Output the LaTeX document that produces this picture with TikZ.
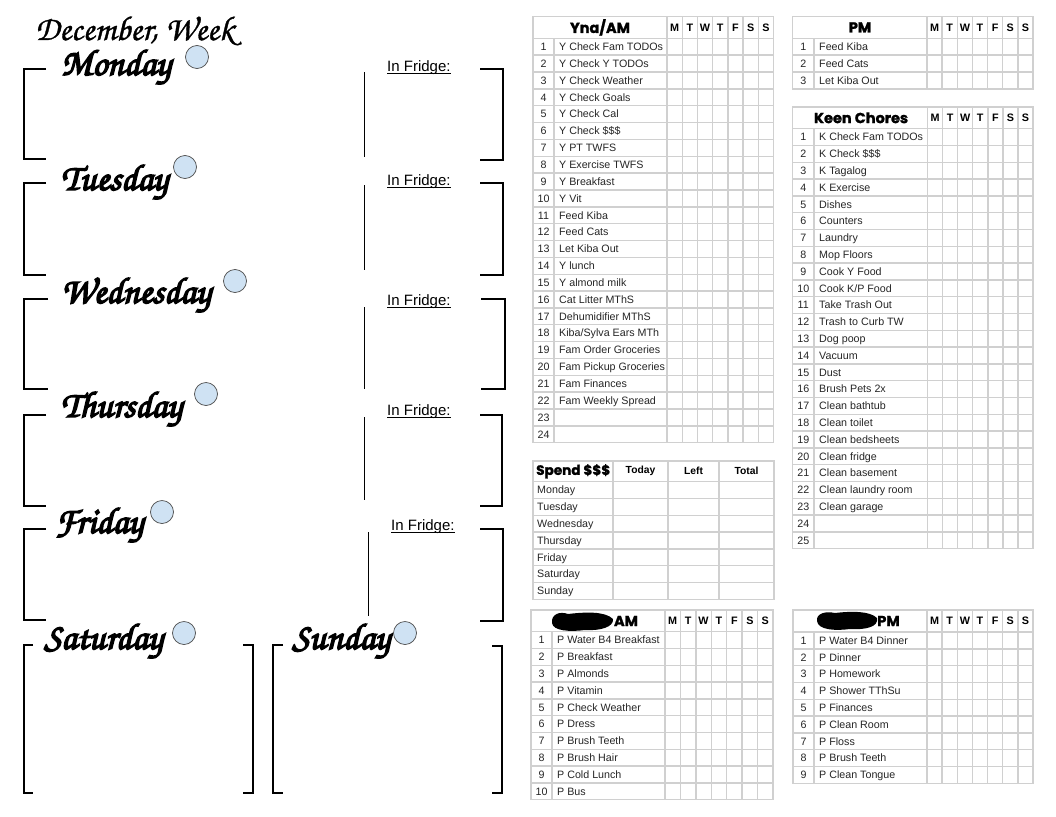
\documentclass[tikz,border=0pt]{standalone}
\usepackage{fontspec}
\setmainfont{Liberation Sans}
\newfontfamily\headfont{Poppins}[BoldFeatures={FakeBold=1.5}]
\newfontfamily\scr{texgyrechorus-mediumitalic.otf}[FakeBold=1]
\newfontfamily\scrb{texgyrechorus-mediumitalic.otf}[FakeBold=4]
\definecolor{gridc}{HTML}{D0D0D0}
\definecolor{dotc}{HTML}{CFE2F3}
\tikzset{
  tgrid/.style={draw=gridc, line width=1.4pt},
  brk/.style={line width=2.8pt, line join=miter},
  fline/.style={line width=0.9pt},
  dot/.style={circle, fill=dotc, draw=black!70, line width=0.7pt, minimum size=23pt, inner sep=0},
  item/.style={anchor=base west, inner sep=0, text=black!85, font=\fontsize{10.7}{12}\selectfont},
  num/.style={anchor=base, inner sep=0, text=black!85, font=\fontsize{10.7}{12}\selectfont},
  dayhd/.style={inner sep=0, font=\bfseries\fontsize{10.8}{11}\selectfont},
  colhd/.style={inner sep=0, font=\bfseries\fontsize{10.3}{11}\selectfont},
  ttl/.style={inner sep=0, font=\headfont\bfseries\fontsize{14.5}{16}\selectfont},
  dayname/.style={anchor=base west, inner sep=0, font=\scrb\fontsize{37}{40}\selectfont},
  fridge/.style={anchor=base west, inner sep=0, font=\fontsize{15}{17}\selectfont},
}
\newcommand\chkgrid[8]{%
  \pgfmathsetmacro\yb{#6+#8*#7}%
  \pgfmathsetmacro\dw{(#4-#3)/7}%
  \draw[tgrid] (#1,#5) rectangle (#4,\yb);
  \draw[tgrid] (#1,#6) -- (#4,#6);
  \foreach \r in {1,...,#8} {\draw[tgrid] (#1,{#6+\r*#7}) -- (#4,{#6+\r*#7});}
  \draw[tgrid] (#2,#6) -- (#2,\yb);
  \foreach \k in {0,...,6} {\draw[tgrid] ({#3+\k*\dw},#5) -- ({#3+\k*\dw},\yb);}
  \foreach \d [count=\k] in {M,T,W,T,F,S,S} {\node[dayhd] at ({#3+(\k-0.5)*\dw},{(#5+#6)/2}) {\d};}
  \foreach \r in {1,...,#8} {\node[num] at ({(#1+#2)/2},{#6+(\r-0.5)*#7+3.8}) {\r};}
}
\newcommand\chkitems[4]{%
  \foreach \t [count=\i] in {#4} {\node[item] at ({#1+5},{#2+(\i-0.5)*#3+3.8}) {\t};}
}
\begin{document}
\begin{tikzpicture}[x=1pt,y=-1pt]
\fill[white] (0,0) rectangle (1056,816);
\useasboundingbox (0,0) rectangle (1056,816);

% ---------- left planner ----------
\node[anchor=base west, inner sep=0, font=\scr\fontsize{34.5}{36}\selectfont] (title) at (35,40) {December, Week};

\node[dayname] (mon) at (61,75) {Monday};
\node[dayname] (tue) at (61,190) {Tuesday};
\node[dayname] (wed) at (61,303) {Wednesday};
\node[dayname] (thu) at (61,417) {Thursday};
\node[dayname] (fri) at (55,533) {Friday};
\node[dayname] (sat) at (44,649) {Saturday};
\node[dayname] (sun) at (292,649) {Sunday};

\node[dot] (dmon) at (197,57) {};
\node[dot] (dtue) at (185,167) {};
\node[dot] (dwed) at (235,281) {};
\node[dot] (dthu) at (206,394) {};
\node[dot] (dfri) at (162,512) {};
\node[dot] (dsat) at (184,633) {};
\node[dot] (dsun) at (405,633) {};

% left brackets
\draw[brk] (46,69) -- (24,69) -- (24,159) -- (46,159);
\draw[brk] (46,183) -- (24,183) -- (24,275) -- (46,275);
\draw[brk] (48,299) -- (24,299) -- (24,389) -- (48,389);
\draw[brk] (46,415) -- (24,415) -- (24,506) -- (46,506);
\draw[brk] (46,529) -- (24,529) -- (24,620) -- (46,620);
\draw[brk] (33,645) -- (24,645) -- (24,793) -- (33,793);
% right brackets
\draw[brk] (480,69) -- (503,69) -- (503,160) -- (480,160);
\draw[brk] (480,183) -- (503,183) -- (503,275) -- (480,275);
\draw[brk] (481,299) -- (505,299) -- (505,389) -- (481,389);
\draw[brk] (480,415) -- (502,415) -- (502,506) -- (480,506);
\draw[brk] (480,529) -- (503,529) -- (503,621) -- (480,621);
\draw[brk] (243,645) -- (253,645) -- (253,793) -- (243,793);
\draw[brk] (283,645) -- (273,645) -- (273,793) -- (283,793);
\draw[brk] (492,646) -- (502,646) -- (502,793) -- (492,793);
% fridge dividers
\draw[fline] (364,72) -- (364,157);
\draw[fline] (364,185) -- (364,270);
\draw[fline] (364,307) -- (364,389);
\draw[fline] (364,417) -- (364,500);
\draw[fline] (368,532) -- (368,616);
% In Fridge labels
\node[fridge] (f1) at (387,71) {In Fridge:};
\node[fridge] (f2) at (387,185.5) {In Fridge:};
\node[fridge] (f3) at (387,305) {In Fridge:};
\node[fridge] (f4) at (387,415) {In Fridge:};
\node[fridge] (f5) at (391,530) {In Fridge:};
\foreach \f in {f1,f2,f3,f4,f5} {\draw[line width=0.8pt] ([yshift=-2pt]\f.base west) -- ([yshift=-2pt]\f.base east);}

% ---------- Yna/AM ----------
\chkgrid{533}{554}{667}{773.5}{16.5}{38.3}{16.85}{24}
\node[ttl] (tyna) at (600,27.4) {Yna/AM};
\chkitems{554}{38.3}{16.85}{Y Check Fam TODOs, Y Check Y TODOs, Y Check Weather, Y Check Goals, Y Check Cal, Y Check \$\$\$, Y PT TWFS, Y Exercise TWFS, Y Breakfast, Y Vit, Feed Kiba, Feed Cats, Let Kiba Out, Y lunch, Y almond milk, Cat Litter MThS, Dehumidifier MThS, Kiba/Sylva Ears MTh, Fam Order Groceries, Fam Pickup Groceries, Fam Finances, Fam Weekly Spread}

% ---------- PM ----------
\chkgrid{792.5}{814}{927}{1033}{16.5}{38.3}{16.85}{3}
\node[ttl] (tpm) at (860,27.4) {PM};
\chkitems{814}{38.3}{16.85}{Feed Kiba, Feed Cats, Let Kiba Out}

% ---------- Keen Chores ----------
\chkgrid{792.5}{814}{927.5}{1033}{107}{128.6}{16.8}{25}
\node[ttl] (tkeen) at (861,117.8) {Keen Chores};
\chkitems{814}{128.6}{16.8}{K Check Fam TODOs, K Check \$\$\$, K Tagalog, K Exercise, Dishes, Counters, Laundry, Mop Floors, Cook Y Food, Cook K/P Food, Take Trash Out, Trash to Curb TW, Dog poop, Vacuum, Dust, Brush Pets 2x, Clean bathtub, Clean toilet, Clean bedsheets, Clean fridge, Clean basement, Clean laundry room, Clean garage}

% ---------- Spend ----------
\draw[tgrid] (533,461) rectangle (774,599.3);
\foreach \r in {0,...,6} {\draw[tgrid] (533,{481.7+\r*16.8}) -- (774,{481.7+\r*16.8});}
\foreach \xx in {613,668,719} {\draw[tgrid] (\xx,461) -- (\xx,599.3);}
\node[ttl, anchor=west, font=\headfont\bfseries\fontsize{13.6}{15}\selectfont] (tspend) at (536,471.3) {Spend \$\$\$};
\node[colhd] (ctoday) at (640.5,471.3) {Today};
\node[colhd] (cleft) at (693.5,471.3) {Left};
\node[colhd] (ctotal) at (746.5,471.3) {Total};
\foreach \t [count=\i] in {Monday, Tuesday, Wednesday, Thursday, Friday, Saturday, Sunday} {\node[item] (s\i) at (537,{481.7+(\i-0.5)*16.8+3.8}) {\t};}

% ---------- P AM ----------
\chkgrid{531}{552}{665}{773}{610}{631.7}{16.8}{10}
\fill (552,623) .. controls (551,614) and (560,611) .. (568,614) .. controls (585,612) and (605,611) .. (613,619) .. controls (614,627) and (600,631) .. (585,630) .. controls (570,632) and (553,631) .. (552,623) -- cycle;
\node[ttl] (tpam) at (626,621) {AM};
\chkitems{552}{631.7}{16.8}{P Water B4 Breakfast, P Breakfast, P Almonds, P Vitamin, P Check Weather, P Dress, P Brush Teeth, P Brush Hair, P Cold Lunch, P Bus}

% ---------- P PM ----------
\chkgrid{793}{814}{927}{1033}{610}{632}{16.8}{9}
\fill (817,621) .. controls (816,613) and (826,611) .. (835,613) .. controls (852,611) and (870,611) .. (877,618) .. controls (879,627) and (865,630) .. (850,629) .. controls (835,631) and (818,630) .. (817,621) -- cycle;
\node[ttl] (tppm) at (888.5,621) {PM};
\chkitems{814}{632}{16.8}{P Water B4 Dinner, P Dinner, P Homework, P Shower TThSu, P Finances, P Clean Room, P Floss, P Brush Teeth, P Clean Tongue}
\end{tikzpicture}
\end{document}
